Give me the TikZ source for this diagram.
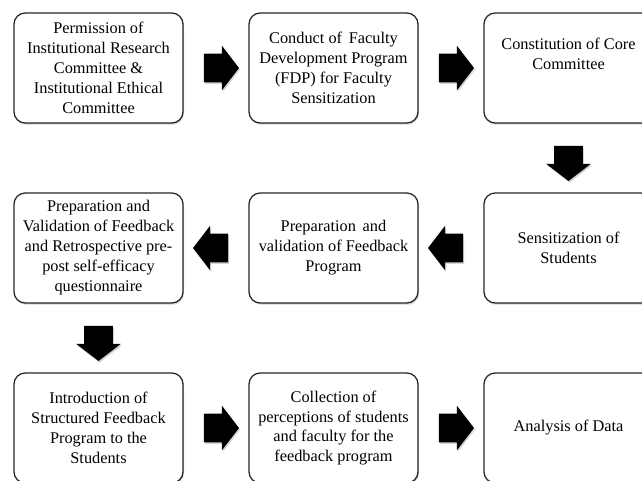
\documentclass[tikz,border=0pt]{standalone}
\usepackage{fontspec}
\setmainfont{Liberation Serif}
\usetikzlibrary{shapes.arrows,shadows}

\tikzset{
  stepbox/.style={draw=black!85, line width=0.9pt, rounded corners=8pt, fill=white,
    minimum width=4.225cm, minimum height=2.75cm, inner sep=1pt, align=center,
    font=\fontsize{11.6}{14.2}\selectfont,
    drop shadow={shadow xshift=0.7pt, shadow yshift=-1.2pt, opacity=0.35}},
  blockarrow/.style={single arrow, fill=black, draw=none, inner xsep=0pt, inner ysep=0.35cm,
    minimum height=0.875cm, minimum width=1.1cm, single arrow head extend=0.2cm,
    single arrow tip angle=105,
    drop shadow={shadow xshift=0.7pt, shadow yshift=-1.2pt, opacity=0.35}}
}

\begin{document}
\begin{tikzpicture}[x=0.025cm,y=-0.025cm]
\clip (0,0) rectangle (642,480);

%row 1
\node[stepbox] (perm) at (98.5,68) {Permission of\\Institutional Research\\Committee \&\\Institutional Ethical\\Committee};
\node[stepbox] (fdp) at (333.5,68) {Conduct of \,Faculty\\Development Program\\(FDP) for Faculty\\Sensitization};
\node[stepbox] (core) at (568.5,68) {Constitution of Core\\Committee\\[6pt]};

%row 2
\node[stepbox] (sens) at (568.5,248) {Sensitization of\\Students};
\node[stepbox] (prog) at (333.5,248) {Preparation \,and\\validation of Feedback\\Program};
\node[stepbox] (quest) at (98.5,248) {Preparation and\\Validation of Feedback\\and Retrospective pre-\\post self-efficacy\\questionnaire};

%row 3
\node[stepbox] (intro) at (98.5,428) {Introduction of\\Structured Feedback\\Program to the\\Students};
\node[stepbox] (coll) at (333.5,428) {Collection of\\perceptions of students\\and faculty for the\\feedback program};
\node[stepbox] (data) at (568.5,428) {Analysis of Data};

%arrows
\path (perm) -- (fdp) node[midway,blockarrow]{};
\path (fdp) -- (core) node[midway,blockarrow]{};
\path (core) -- (sens) node[midway,blockarrow,rotate=-90]{};
\path (sens) -- (prog) node[midway,blockarrow,rotate=180]{};
\path (prog) -- (quest) node[midway,blockarrow,rotate=180]{};
\path (quest) -- (intro) node[midway,blockarrow,rotate=-90]{};
\path (intro) -- (coll) node[midway,blockarrow]{};
\path (coll) -- (data) node[midway,blockarrow]{};
\end{tikzpicture}
\end{document}
